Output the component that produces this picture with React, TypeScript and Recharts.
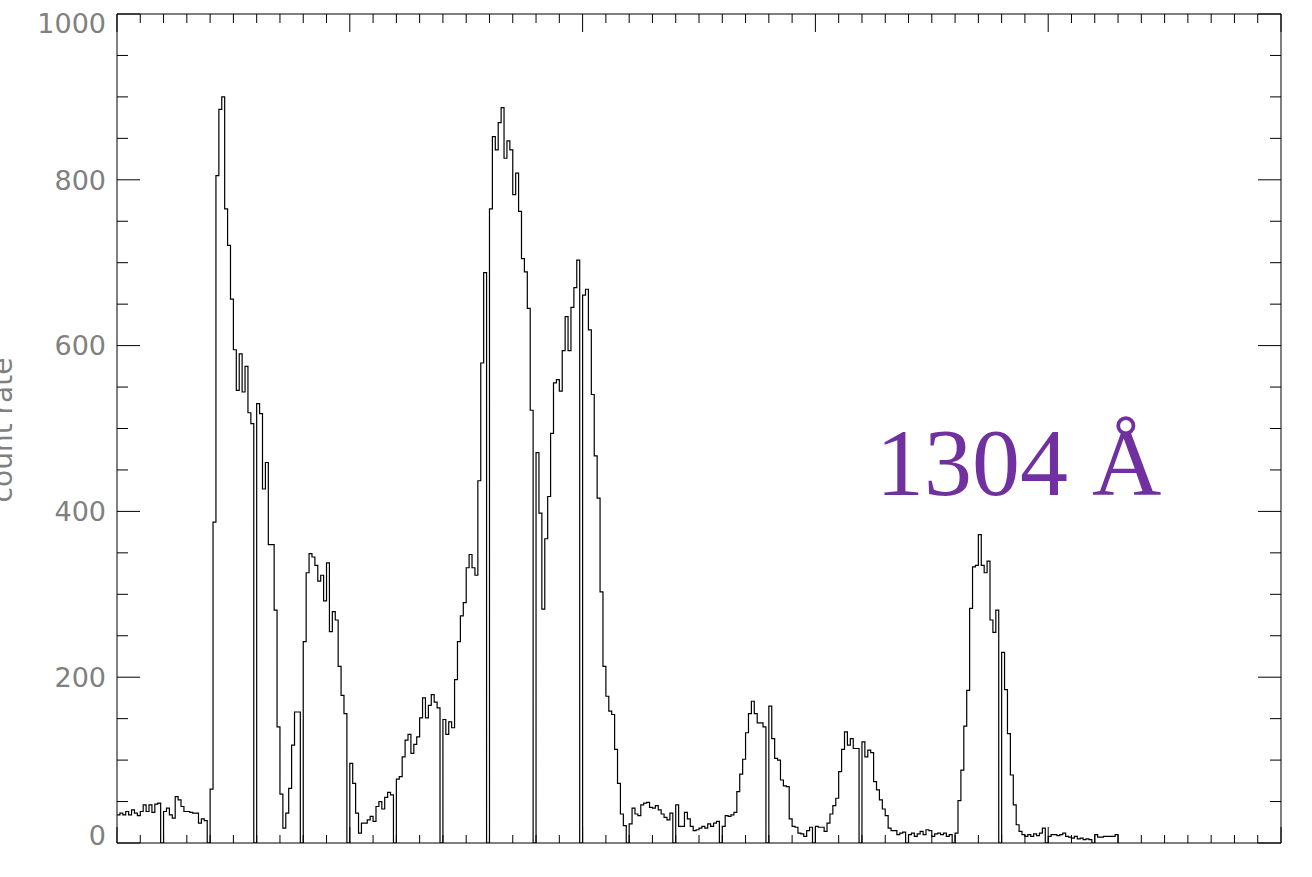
import { LineChart, Line, XAxis, YAxis } from 'recharts';

// count rate per detector bin, one row per 16 bins (every 16th bin is a dead bin)
const countRate: number[] = [
  34, 36, 34, 38, 34, 40, 36, 33, 38, 46, 38, 46, 37, 47, 48, 0,
  38, 42, 34, 30, 56, 52, 44, 38, 38, 37, 36, 36, 24, 29, 27, 0,
  65, 387, 805, 885, 900, 765, 721, 656, 595, 546, 590, 544, 575, 519, 506, 0,
  530, 518, 427, 459, 360, 360, 281, 140, 59, 18, 36, 66, 118, 158, 158, 0,
  243, 326, 349, 345, 335, 316, 323, 292, 338, 255, 279, 269, 213, 178, 156, 0,
  96, 72, 36, 12, 24, 24, 28, 32, 26, 44, 50, 41, 55, 61, 58, 0,
  77, 80, 104, 124, 131, 108, 119, 128, 151, 175, 151, 166, 179, 170, 163, 0,
  149, 131, 146, 139, 197, 243, 274, 290, 332, 348, 332, 323, 437, 579, 688, 0,
  765, 852, 836, 869, 887, 826, 847, 836, 782, 808, 762, 705, 689, 645, 522, 0,
  471, 398, 282, 367, 418, 494, 555, 559, 545, 594, 635, 594, 646, 670, 703, 0,
  661, 668, 619, 541, 467, 416, 303, 213, 177, 159, 155, 113, 72, 35, 21, 0,
  23, 42, 35, 33, 46, 48, 49, 43, 42, 45, 40, 35, 31, 28, 36, 0,
  46, 20, 20, 37, 29, 20, 15, 16, 18, 20, 18, 23, 20, 24, 26, 0,
  20, 33, 32, 34, 37, 62, 83, 101, 133, 156, 171, 156, 145, 145, 140, 0,
  165, 126, 102, 100, 76, 69, 68, 29, 20, 19, 12, 11, 8, 15, 19, 0,
  20, 19, 19, 14, 24, 35, 45, 54, 86, 113, 134, 118, 126, 114, 114, 0,
  122, 104, 112, 109, 74, 64, 52, 41, 33, 18, 15, 15, 10, 12, 13, 0,
  10, 12, 8, 11, 14, 10, 16, 15, 8, 11, 12, 10, 12, 8, 10, 0,
  12, 51, 88, 141, 184, 283, 333, 335, 372, 335, 326, 340, 269, 254, 281, 0,
  230, 185, 132, 82, 46, 22, 14, 10, 8, 10, 8, 11, 9, 12, 18, 0,
  8, 10, 10, 9, 10, 12, 8, 7, 6, 8, 5, 6, 4, 5, 4, 0,
  10, 7, 7, 8, 8, 8, 8, 10,
];

const binDomain = [0, 400];
const binTicks = Array.from({ length: 51 }, (_, i) => i * 8);
const rateTicks = [0, 50, 100, 150, 200, 250, 300, 350, 400, 450, 500, 550, 600, 650, 700, 750, 800, 850, 900, 950, 1000];
const rateLabels = [0, 200, 400, 600, 800, 1000];
const yTitle = 'count rate';
const lineLabel = '1304 Å';

// step line: each bin holds its value until the next bin, then drops to 0 after the last
const data = countRate
  .map((v, i) => ({ bin: i, rate: v }))
  .concat([{ bin: countRate.length, rate: 0 }]);

const PLOT = { left: 117, right: 1281, top: 14, bottom: 843 };
const labelFont = '"DejaVu Sans", sans-serif';

function LeftTick({ y, payload }: any) {
  const major = rateLabels.includes(payload.value);
  const dy = payload.value === 1000 ? 9 : payload.value === 0 ? -8 : 0;
  return (
    <g>
      <line x1={PLOT.left} x2={PLOT.left + (major ? 23 : 11)} y1={y} y2={y} stroke="#000" />
      {major && (
        <text
          x={106}
          y={y + dy}
          dy="0.36em"
          textAnchor="end"
          fontFamily={labelFont}
          fontSize={27}
          fill="#808080"
        >
          {payload.value}
        </text>
      )}
    </g>
  );
}

function RightTick({ y, payload }: any) {
  const major = rateLabels.includes(payload.value);
  return <line x1={PLOT.right} x2={PLOT.right - (major ? 23 : 11)} y1={y} y2={y} stroke="#000" />;
}

function TopTick({ x, payload }: any) {
  const major = payload.value % 80 === 0;
  return <line x1={x} x2={x} y1={PLOT.top} y2={PLOT.top + (major ? 18 : 9)} stroke="#000" />;
}

function BottomTick({ x, payload }: any) {
  const major = payload.value % 80 === 0;
  return <line x1={x} x2={x} y1={PLOT.bottom} y2={PLOT.bottom - (major ? 16 : 8)} stroke="#000" />;
}

function YTitle() {
  return (
    <text
      x={12}
      y={430}
      transform="rotate(-90, 12, 430)"
      textAnchor="middle"
      fontFamily={labelFont}
      fontSize={28}
      fill="#808080"
    >
      {yTitle}
    </text>
  );
}

export default function App() {
  return (
    <div style={{ position: 'absolute', left: 0, top: 0, width: 1312, height: 877, background: '#fff' }}>
      <LineChart
        width={1312}
        height={877}
        data={data}
        margin={{ top: PLOT.top, right: 1312 - PLOT.right, bottom: 877 - PLOT.bottom, left: PLOT.left }}
      >
        <XAxis
          xAxisId="bottom"
          dataKey="bin"
          type="number"
          domain={binDomain}
          allowDataOverflow
          ticks={binTicks}
          interval={0}
          mirror
          tickLine={false}
          axisLine={{ stroke: '#000' }}
          tick={<BottomTick />}
        />
        <XAxis
          xAxisId="top"
          orientation="top"
          dataKey="bin"
          type="number"
          domain={binDomain}
          allowDataOverflow
          ticks={binTicks}
          interval={0}
          mirror
          tickLine={false}
          axisLine={{ stroke: '#000' }}
          tick={<TopTick />}
        />
        <YAxis
          yAxisId="left"
          type="number"
          domain={[0, 1000]}
          allowDataOverflow
          ticks={rateTicks}
          interval={0}
          mirror
          tickLine={false}
          axisLine={{ stroke: '#000' }}
          tick={<LeftTick />}
          label={<YTitle />}
        />
        <YAxis
          yAxisId="right"
          orientation="right"
          type="number"
          domain={[0, 1000]}
          allowDataOverflow
          ticks={rateTicks}
          interval={0}
          mirror
          tickLine={false}
          axisLine={{ stroke: '#000' }}
          tick={<RightTick />}
        />
        <Line
          xAxisId="bottom"
          yAxisId="left"
          type="stepAfter"
          dataKey="rate"
          stroke="#000"
          strokeWidth={1.2}
          dot={false}
          isAnimationActive={false}
        />
      </LineChart>
      <svg
        width={1312}
        height={877}
        style={{ position: 'absolute', left: 0, top: 0, pointerEvents: 'none' }}
      >
        <text x={876} y={495} fontFamily='"Liberation Serif", serif' fontSize={96} fill="#7030A0">
          {lineLabel}
        </text>
      </svg>
    </div>
  );
}
